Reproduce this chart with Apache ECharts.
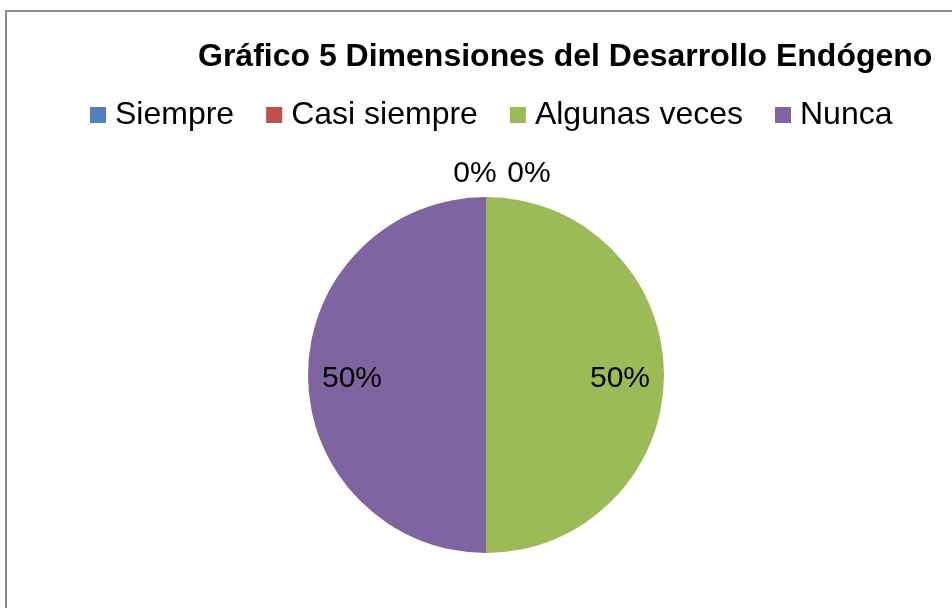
<!DOCTYPE html>
<html>
<head>
<meta charset="utf-8">
<title>Gráfico 5 Dimensiones del Desarrollo Endógeno</title>
<style>
  html, body { margin: 0; padding: 0; background: #fff; }
  #frame {
    position: absolute; left: 5px; top: 10px;
    width: 1000px; height: 700px;
    border-top: 2px solid #8c8c8c; border-left: 2px solid #8c8c8c;
  }
  #main { position: absolute; left: 0; top: 0; width: 952px; height: 608px; }
</style>
<script src="https://cdn.jsdelivr.net/npm/echarts@6/dist/echarts.min.js"></script>
</head>
<body>
<div id="frame"></div>
<div id="main"></div>
<script type="text/javascript">
// datos del grafico
var categorias = ['Siempre', 'Casi siempre', 'Algunas veces', 'Nunca'];
var valores = [0, 0, 50, 50];
var colores = ['#4F81BD', '#C0504D', '#9BBB59', '#8064A2'];

var fuente = '"Liberation Sans", Arial, sans-serif';
var centro = [486, 375];
// donde va cada etiqueta, relativo al centro del pie
var posEtiqueta = [[-11, -201], [43, -201], [134, 4], [-134, 4]];

var myChart = echarts.init(document.getElementById('main'));

var datos = categorias.map(function (c, i) {
    return {
        name: c,
        value: valores[i],
        itemStyle: { color: colores[i] },
        label: { position: valores[i] === 0 ? 'outside' : 'inside' }
    };
});

var option = {
    animation: false,
    title: {
        text: 'Gráfico 5 Dimensiones del Desarrollo Endógeno',
        left: 193,
        top: 36,
        textStyle: { fontFamily: fuente, fontSize: 32, fontWeight: 'bold', color: '#000' }
    },
    legend: {
        data: categorias,
        left: 85,
        top: 94,
        icon: 'rect',
        itemWidth: 16,
        itemHeight: 16,
        itemGap: 32,
        textStyle: { fontFamily: fuente, fontSize: 32, color: '#000', padding: [0, 0, 0, 4] }
    },
    series: [{
        type: 'pie',
        center: centro,
        radius: 178,
        startAngle: 90,
        clockwise: true,
        avoidLabelOverlap: false,
        label: {
            show: true,
            fontFamily: fuente,
            fontSize: 30,
            color: '#000',
            formatter: function (p) { return Math.round(p.percent) + '%'; }
        },
        labelLine: { show: false, length: 10, length2: 0 },
        labelLayout: function (p) {
            var r = p.labelRect;
            var o = posEtiqueta[p.dataIndex];
            return {
                dx: centro[0] + o[0] - (r.x + r.width / 2),
                dy: centro[1] + o[1] - (r.y + r.height / 2)
            };
        },
        emphasis: { disabled: true },
        data: datos
    }]
};

myChart.setOption(option);
</script>
</body>
</html>
